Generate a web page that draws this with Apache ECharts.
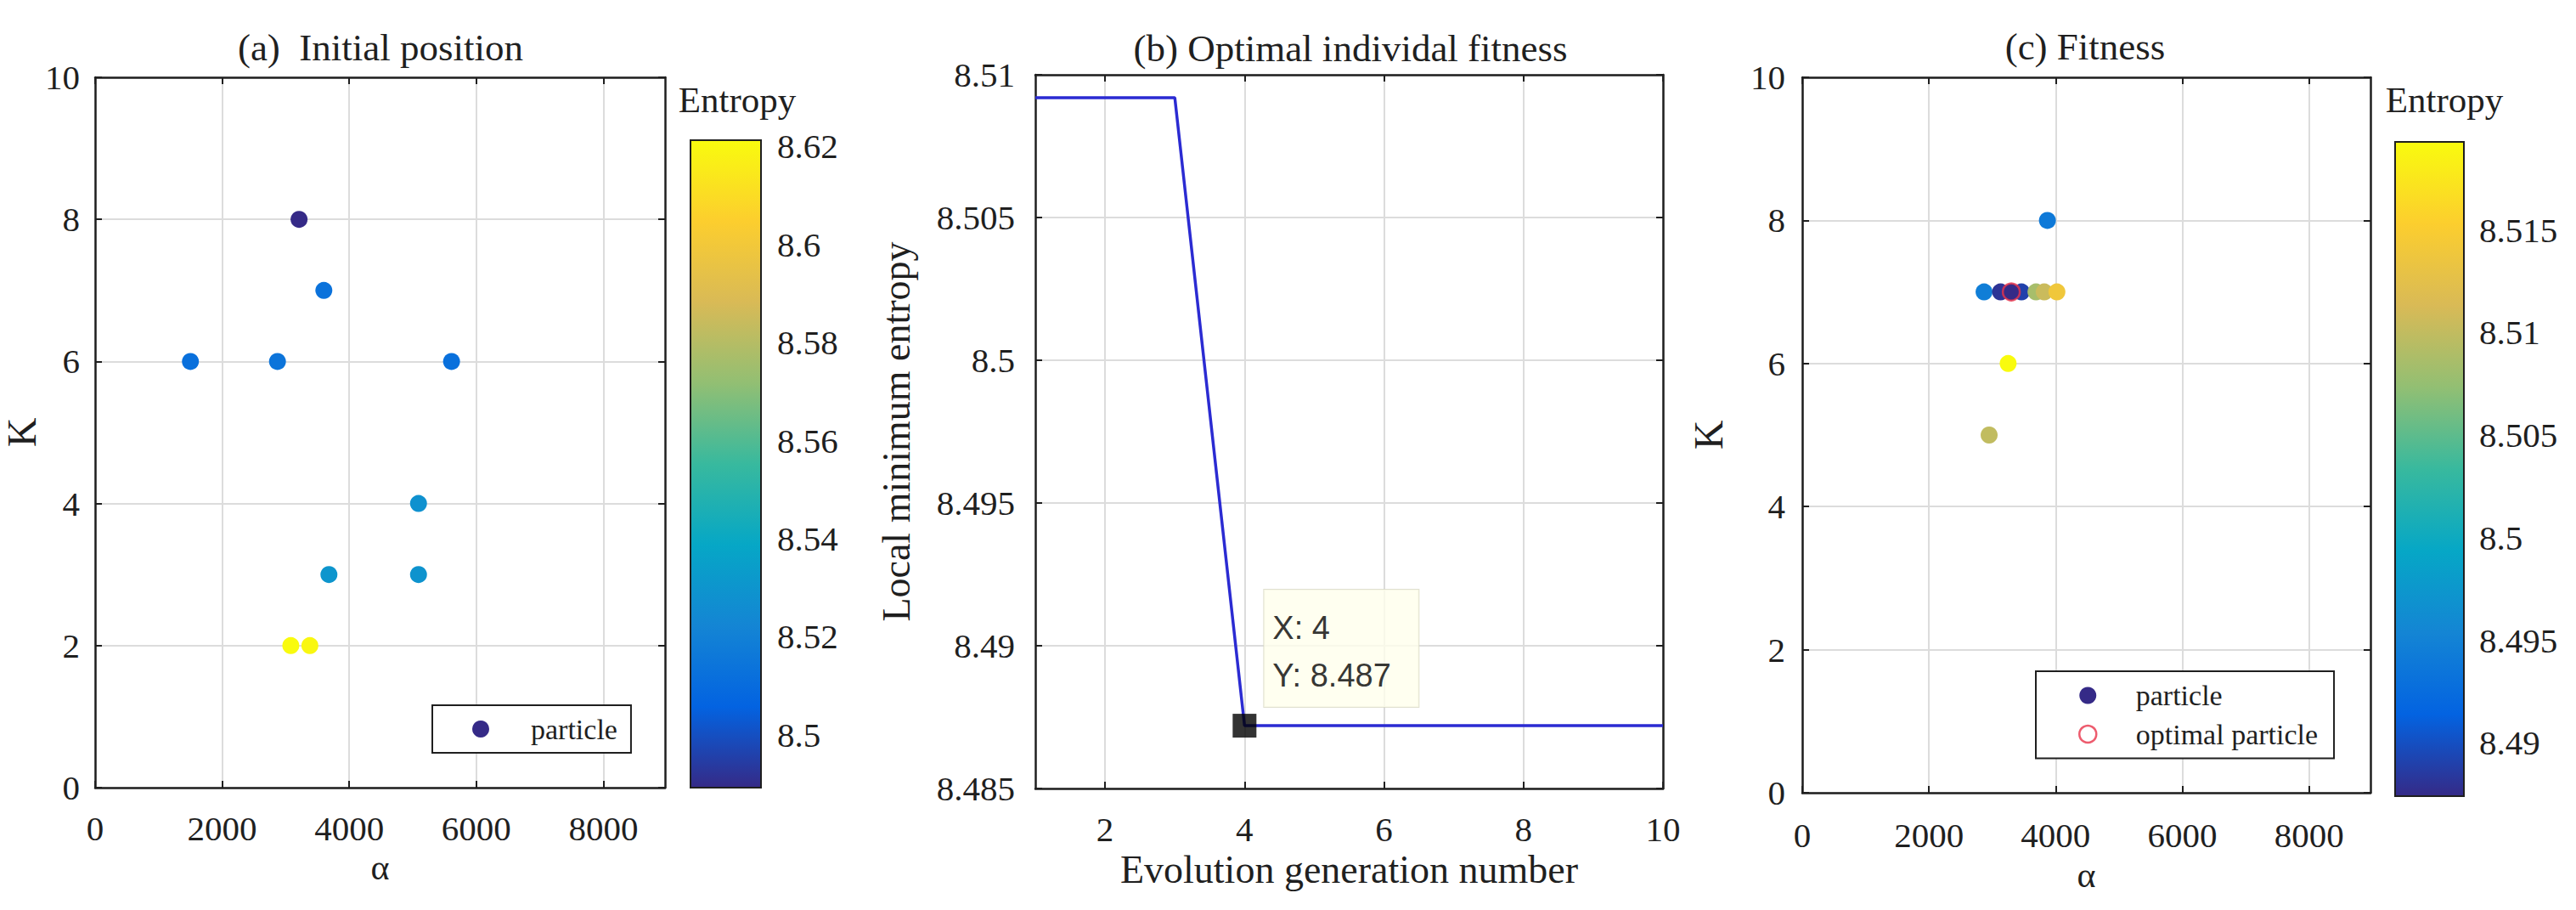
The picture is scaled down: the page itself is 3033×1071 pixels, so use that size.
<!DOCTYPE html>
<html><head><meta charset="utf-8">
<script src="https://cdn.jsdelivr.net/npm/echarts@6/dist/echarts.min.js"></script>
<style>
html,body{margin:0;padding:0;background:#fff}
#c{width:3033px;height:1071px}
</style>
</head><body><div id="c"></div>
<script>
// ---------- data ----------
// (a) initial particle positions
const alphaA   = [3210, 3600, 1500, 2870, 5610, 5090, 3680, 5090, 3080, 3380];
const kA       = [8, 7, 6, 6, 6, 4, 3, 3, 2, 2];
const entropyA = [8.4892, 8.513, 8.512, 8.514, 8.512, 8.528, 8.530, 8.529, 8.6213, 8.620];

// (b) optimal individual fitness per generation
const generations = [1, 2, 3, 4, 5, 6, 7, 8, 9, 10];
const bestFitness = [8.5092, 8.5092, 8.5092, 8.4872, 8.4872, 8.4872, 8.4872, 8.4872, 8.4872, 8.4872];
const datatipX = [4];
const datatipY = [8.4872];

// (c) final particle fitness
const alphaC   = [3870, 2870, 3130, 3460, 3690, 3820, 4020, 3300, 3250, 2950];
const kC       = [8, 7, 7, 7, 7, 7, 7, 7, 6, 5];
const entropyC = [8.4940, 8.4945, 8.4880, 8.4890, 8.5085, 8.5105, 8.5140, 8.4874, 8.5193, 8.5100];
const optimalAlpha = [3300];
const optimalK     = [7];

// ticks
const alphaTicks   = [0, 2000, 4000, 6000, 8000];
const kTicks       = [0, 2, 4, 6, 8, 10];
const genTicks     = [2, 4, 6, 8, 10];
const fitnessTicks = [8.485, 8.49, 8.495, 8.5, 8.505, 8.51];
const cbTicksA     = [8.5, 8.52, 8.54, 8.56, 8.58, 8.6, 8.62];
const cbTicksC     = [8.49, 8.495, 8.5, 8.505, 8.51, 8.515];

// ---------- styling ----------
const PARULA = ['#352a87', '#0363e1', '#1485d4', '#06a7c6', '#38b99e', '#92bf73', '#d9ba56', '#fcce2e', '#f9fb0e'];
const FONT = "Liberation Serif";
const TXT = '#1f1f1f';
const LINE = '#1f1f1f';
const GRIDC = '#dcdcdc';
const fmtNum = v => String(+(+v).toFixed(4));
const onlyTicks = ticks => v => ticks.some(t => Math.abs(t - v) < 1e-7) ? fmtNum(v) : '';

const cbMinA = Math.min(...entropyA), cbMaxA = Math.max(...entropyA);
const cbMinC = Math.min(...entropyC), cbMaxC = Math.max(...entropyC);

function axis(o) {
  const hasTicks = !!o.ticks;
  const label = {show: !!o.labels && hasTicks, margin: o.margin || 20,
                 formatter: onlyTicks(o.ticks || []), showMinLabel: true, showMaxLabel: true, hideOverlap: false,
                 fontFamily: FONT, fontSize: 41, color: TXT};
  if (o.labelCustom) label.customValues = o.ticks;
  const a = {
    type: 'value', gridIndex: o.grid, position: o.pos, min: o.min, max: o.max,
    show: o.show !== false,
    axisLine: {show: o.line !== false, onZero: false, lineStyle: {color: LINE, width: 2.5}},
    axisTick: {show: hasTicks, inside: true, length: o.tickLen || 8, customValues: o.ticks,
               lineStyle: {color: LINE, width: 2}},
    axisLabel: label,
    splitLine: {show: !!o.split, lineStyle: {color: GRIDC, width: 2}},
    name: o.name || '', nameLocation: 'middle', nameGap: o.nameGap || 0,
    nameTextStyle: {fontFamily: FONT, fontSize: o.nameSize || 46, color: TXT}
  };
  if (o.interval) a.interval = o.interval;
  return a;
}

function colorbarSeries(xi, yi, mn, mx) {
  return {
    type: 'custom', xAxisIndex: xi, yAxisIndex: yi, silent: true, z: 3,
    data: [[0, mn, 1, mx]],
    renderItem(params, api) {
      const p0 = api.coord([api.value(0), api.value(1)]);
      const p1 = api.coord([api.value(2), api.value(3)]);
      return {
        type: 'rect',
        shape: {x: p0[0], y: p1[1], width: p1[0] - p0[0], height: p0[1] - p1[1]},
        style: {
          fill: new echarts.graphic.LinearGradient(0, 1, 0, 0,
            PARULA.map((c, i) => ({offset: i / (PARULA.length - 1), color: c}))),
          stroke: LINE, lineWidth: 2
        }
      };
    }
  };
}

const grids = [
  {left: 112, top: 91, width: 671, height: 836},    // a
  {left: 813, top: 165, width: 83, height: 762},    // colorbar a
  {left: 1219, top: 88, width: 739, height: 840},   // b
  {left: 2122, top: 91, width: 669, height: 842},   // c
  {left: 2820, top: 167, width: 81, height: 770}    // colorbar c
];

const xAxes = [
  axis({grid: 0, pos: 'bottom', min: 0, max: 8970, interval: 2000, ticks: alphaTicks, labels: true, split: true,
        margin: 27, name: 'α', nameGap: 64, nameSize: 42}),
  axis({grid: 0, pos: 'top', min: 0, max: 8970, interval: 2000, ticks: alphaTicks}),
  axis({grid: 1, pos: 'bottom', min: 0, max: 1, show: false}),
  axis({grid: 2, pos: 'bottom', min: 1, max: 10, interval: 1, ticks: genTicks, labels: true, split: true,
        margin: 27, name: 'Evolution generation number', nameGap: 66}),
  axis({grid: 2, pos: 'top', min: 1, max: 10, interval: 1, ticks: genTicks}),
  axis({grid: 3, pos: 'bottom', min: 0, max: 8970, interval: 2000, ticks: alphaTicks, labels: true, split: true,
        margin: 29, name: 'α', nameGap: 76, nameSize: 42}),
  axis({grid: 3, pos: 'top', min: 0, max: 8970, interval: 2000, ticks: alphaTicks}),
  axis({grid: 4, pos: 'bottom', min: 0, max: 1, show: false})
];

const yAxes = [
  axis({grid: 0, pos: 'left', min: 0, max: 10, interval: 2, ticks: kTicks, labels: true, split: true, margin: 18,
        name: 'K', nameGap: 27, nameSize: 48}),
  axis({grid: 0, pos: 'right', min: 0, max: 10, interval: 2, ticks: kTicks}),
  axis({grid: 1, pos: 'right', min: cbMinA, max: cbMaxA, ticks: cbTicksA, labels: true, labelCustom: true,
        line: false, tickLen: 6, margin: 19}),
  axis({grid: 2, pos: 'left', min: 8.485, max: 8.51, interval: 0.005, ticks: fitnessTicks, labels: true, split: true,
        margin: 24, name: 'Local minimum entropy', nameGap: 141}),
  axis({grid: 2, pos: 'right', min: 8.485, max: 8.51, interval: 0.005, ticks: fitnessTicks}),
  axis({grid: 3, pos: 'left', min: 0, max: 10, interval: 2, ticks: kTicks, labels: true, split: true, margin: 20,
        name: 'K', nameGap: 87, nameSize: 48}),
  axis({grid: 3, pos: 'right', min: 0, max: 10, interval: 2, ticks: kTicks}),
  axis({grid: 4, pos: 'right', min: cbMinC, max: cbMaxC, ticks: cbTicksC, labels: true, labelCustom: true,
        line: false, tickLen: 6, margin: 18})
];

const series = [
  { // 0: (a) particles
    type: 'scatter', name: 'particle', xAxisIndex: 0, yAxisIndex: 0, symbol: 'circle', symbolSize: 20, z: 4,
    itemStyle: {color: PARULA[0], opacity: 1},
    data: alphaA.map((a, i) => [a, kA[i], entropyA[i]])
  },
  colorbarSeries(2, 2, cbMinA, cbMaxA), // 1
  { // 2: (b) line
    type: 'line', name: 'fitness', xAxisIndex: 3, yAxisIndex: 3, symbol: 'none', showSymbol: false, z: 4,
    lineStyle: {color: '#2b2bd2', width: 3.5},
    data: generations.map((g, i) => [g, bestFitness[i]])
  },
  { // 3: datatip
    type: 'scatter', name: 'datatip', xAxisIndex: 3, yAxisIndex: 3, symbol: 'rect', symbolSize: 28, z: 6,
    itemStyle: {color: '#000'},
    data: datatipX.map((x, i) => [x, datatipY[i]]),
    label: {
      show: true, position: [37, -146],
      formatter: p => 'X: ' + p.value[0] + '\nY: ' + p.value[1].toFixed(3),
      fontFamily: "Liberation Sans", fontSize: 38, lineHeight: 56, color: '#000',
      backgroundColor: '#ffffec', borderColor: '#d8d8c4', borderWidth: 1,
      padding: [17, 22, 9, 10], width: 150
    }
  },
  { // 4: (c) particles
    type: 'scatter', name: 'particle', xAxisIndex: 5, yAxisIndex: 5, symbol: 'circle', symbolSize: 20, z: 4,
    itemStyle: {color: PARULA[0], opacity: 1},
    data: alphaC.map((a, i) => [a, kC[i], entropyC[i]])
  },
  { // 5: optimal particle
    type: 'scatter', name: 'optimal particle', xAxisIndex: 5, yAxisIndex: 5, symbol: 'circle', symbolSize: 20, z: 5,
    itemStyle: {color: 'rgba(255,255,255,0)', borderColor: '#e8334a', borderWidth: 2.5},
    data: optimalAlpha.map((a, i) => [a, optimalK[i]])
  },
  colorbarSeries(7, 7, cbMinC, cbMaxC) // 6
];

const legendText = {fontFamily: FONT, fontSize: 34, lineHeight: 34, color: TXT};
const option = {
  animation: false,
  backgroundColor: '#fff',
  textStyle: {fontFamily: FONT, color: TXT},
  grid: grids,
  xAxis: xAxes,
  yAxis: yAxes,
  visualMap: [
    {type: 'continuous', show: false, seriesIndex: 0, dimension: 2, min: cbMinA, max: cbMaxA, inRange: {color: PARULA}},
    {type: 'continuous', show: false, seriesIndex: 4, dimension: 2, min: cbMinC, max: cbMaxC, inRange: {color: PARULA}}
  ],
  legend: [
    {
      data: [{name: 'particle', icon: 'circle', itemStyle: {color: PARULA[0]}}],
      left: 509, top: 830, orient: 'vertical', itemWidth: 108, itemHeight: 20,
      padding: [11, 16, 11, 47], borderColor: LINE, borderWidth: 2, backgroundColor: '#fff',
      textStyle: legendText, selectedMode: false
    },
    {
      data: [{name: 'particle', icon: 'circle', itemStyle: {color: PARULA[0]}},
             {name: 'optimal particle', icon: 'circle',
              itemStyle: {color: '#fff', borderColor: '#e8334a', borderWidth: 2.5}}],
      left: 2397, top: 790, orient: 'vertical', itemWidth: 103, itemHeight: 20, itemGap: 11.5,
      padding: [11.5, 19, 11.5, 50], borderColor: LINE, borderWidth: 2, backgroundColor: '#fff',
      textStyle: legendText, selectedMode: false
    }
  ],
  graphic: [
    {type: 'text', x: 448, y: 56, style: {text: '(a)  Initial position', font: '45px ' + FONT, fill: TXT, align: 'center', verticalAlign: 'middle'}},
    {type: 'text', x: 1590, y: 57, style: {text: '(b) Optimal individal fitness', font: '45px ' + FONT, fill: TXT, align: 'center', verticalAlign: 'middle'}},
    {type: 'text', x: 2455, y: 55, style: {text: '(c) Fitness', font: '45px ' + FONT, fill: TXT, align: 'center', verticalAlign: 'middle'}},
    {type: 'text', x: 868, y: 117, style: {text: 'Entropy', font: '43px ' + FONT, fill: TXT, align: 'center', verticalAlign: 'middle'}},
    {type: 'text', x: 2878, y: 117, style: {text: 'Entropy', font: '43px ' + FONT, fill: TXT, align: 'center', verticalAlign: 'middle'}}
  ],
  series: series
};

const chart = echarts.init(document.getElementById('c'), null, {renderer: 'svg'});
chart.setOption(option);
</script></body></html>
